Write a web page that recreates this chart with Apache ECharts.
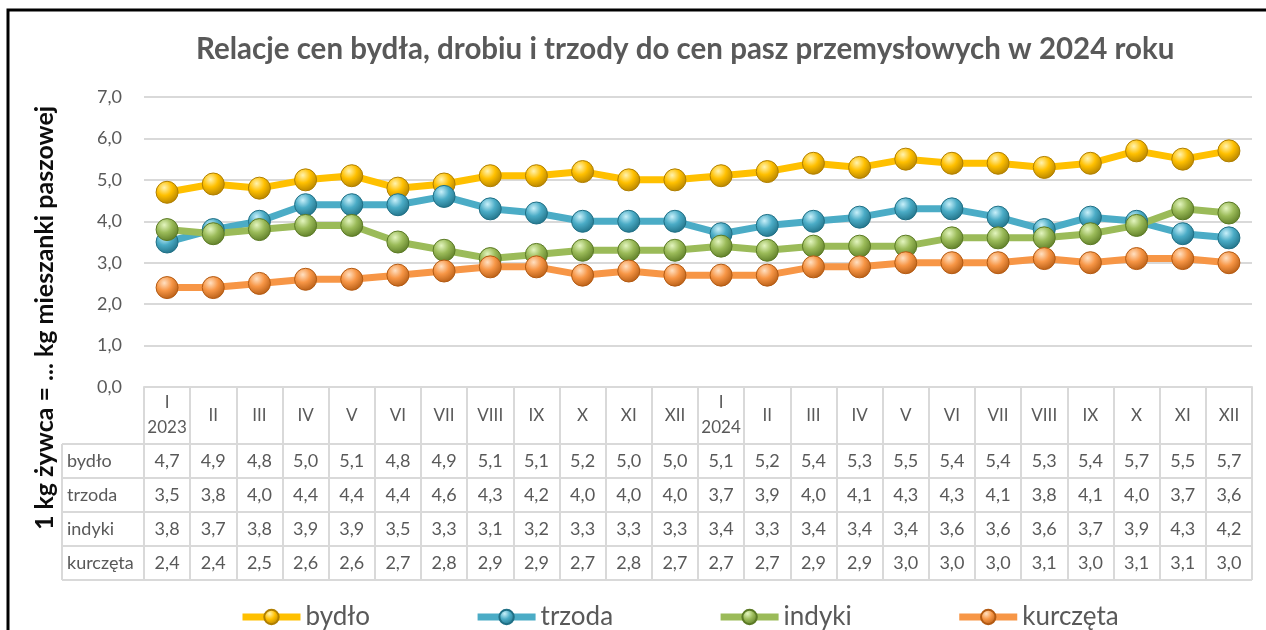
<!DOCTYPE html>
<html>
<head>
    <meta charset="UTF-8">
    <title>Relacje cen</title>
    <script src="https://cdn.jsdelivr.net/npm/echarts@6/dist/echarts.min.js"></script>
    <style>
        html, body { margin: 0; padding: 0; background: #fff; }
        #chart { width: 1266px; height: 630px; }
    </style>
</head>
<body>
<div id="chart"></div>
<script>
    const months = ['I\n2023', 'II', 'III', 'IV', 'V', 'VI', 'VII', 'VIII', 'IX', 'X', 'XI', 'XII',
        'I\n2024', 'II', 'III', 'IV', 'V', 'VI', 'VII', 'VIII', 'IX', 'X', 'XI', 'XII']
    const bydlo = [4.7, 4.9, 4.8, 5.0, 5.1, 4.8, 4.9, 5.1, 5.1, 5.2, 5.0, 5.0, 5.1, 5.2, 5.4, 5.3, 5.5, 5.4, 5.4, 5.3, 5.4, 5.7, 5.5, 5.7]
    const trzoda = [3.5, 3.8, 4.0, 4.4, 4.4, 4.4, 4.6, 4.3, 4.2, 4.0, 4.0, 4.0, 3.7, 3.9, 4.0, 4.1, 4.3, 4.3, 4.1, 3.8, 4.1, 4.0, 3.7, 3.6]
    const indyki = [3.8, 3.7, 3.8, 3.9, 3.9, 3.5, 3.3, 3.1, 3.2, 3.3, 3.3, 3.3, 3.4, 3.3, 3.4, 3.4, 3.4, 3.6, 3.6, 3.6, 3.7, 3.9, 4.3, 4.2]
    const kurczeta = [2.4, 2.4, 2.5, 2.6, 2.6, 2.7, 2.8, 2.9, 2.9, 2.7, 2.8, 2.7, 2.7, 2.7, 2.9, 2.9, 3.0, 3.0, 3.0, 3.1, 3.0, 3.1, 3.1, 3.0]

    const rows = [
        {name: 'bydło', data: bydlo, color: '#FFC000', light: '#fff3b0', dark: '#b07f00'},
        {name: 'trzoda', data: trzoda, color: '#4BACC6', light: '#c8f0fa', dark: '#1f6f85'},
        {name: 'indyki', data: indyki, color: '#9BBB59', light: '#e3f5bf', dark: '#5b7a25'},
        {name: 'kurczęta', data: kurczeta, color: '#F79646', light: '#ffe0c2', dark: '#b35a12'},
    ]

    const FONT = 'Lato'
    const GREY = '#595959'
    const LINE = '#d9d9d9'
    const GRID_L = 144, GRID_R = 1252, GRID_T = 97, AXIS_Y = 387
    const HEADER_H = 57, ROW_H = 34, LABEL_X = 62
    const fmt = v => v.toFixed(1).replace('.', ',')

    let chart = echarts.init(document.getElementById('chart'), null, {renderer: 'canvas'})

    // table rows are extra category axes under the plot
    let rowAxes = rows.map((r, i) => ({
        type: 'category',
        gridIndex: 0,
        position: 'bottom',
        data: months,
        offset: HEADER_H + ROW_H * i + ROW_H / 2,
        axisLine: {show: false},
        axisTick: {show: false},
        axisLabel: {
            interval: 0, margin: 0, verticalAlign: 'middle',
            color: GREY, fontFamily: FONT, fontSize: 18,
            formatter: (v, idx) => fmt(r.data[idx])
        },
        name: r.name,
        nameLocation: 'start',
        nameGap: GRID_L - LABEL_X - 5,
        nameMoveOverlap: false,
        nameTextStyle: {align: 'left', verticalAlign: 'middle', color: GREY, fontFamily: FONT, fontSize: 18},
    }))

    let tableBottom = AXIS_Y + HEADER_H + ROW_H * rows.length
    let tableLines = []
    for (let i = 0; i <= rows.length; i++) {
        let y = AXIS_Y + HEADER_H + ROW_H * i
        tableLines.push({type: 'line', shape: {x1: LABEL_X, y1: y, x2: GRID_R, y2: y},
            style: {stroke: LINE, lineWidth: 2}})
    }
    tableLines.push({type: 'line', shape: {x1: LABEL_X, y1: AXIS_Y + HEADER_H, x2: LABEL_X, y2: tableBottom},
        style: {stroke: LINE, lineWidth: 2}})

    let option = {
        backgroundColor: '#fff',
        animation: false,
        title: {
            text: 'Relacje cen bydła, drobiu i trzody do cen pasz przemysłowych w 2024 roku',
            left: 191, top: 29,
            textStyle: {color: GREY, fontFamily: FONT, fontWeight: 'bold', fontSize: 29.5}
        },
        legend: {
            top: 599, left: 234,
            itemWidth: 58, itemHeight: 18, itemGap: 104,
            lineStyle: {width: 7},
            textStyle: {color: GREY, fontFamily: FONT, fontSize: 26},
            data: rows.map(r => r.name)
        },
        grid: {left: GRID_L, right: 1266 - GRID_R, top: GRID_T, bottom: 630 - AXIS_Y, outerBoundsMode: 'none'},
        xAxis: [{
            type: 'category',
            data: months,
            boundaryGap: true,
            axisLine: {lineStyle: {color: LINE, width: 2}},
            axisTick: {show: true, interval: 0, length: tableBottom - AXIS_Y, lineStyle: {color: LINE, width: 2}},
            axisLabel: {interval: 0, margin: HEADER_H / 2, verticalAlign: 'middle', lineHeight: 25,
                color: GREY, fontFamily: FONT, fontSize: 17}
        }].concat(rowAxes),
        yAxis: {
            type: 'value', min: 0, max: 7, interval: 1,
            axisLabel: {formatter: fmt, color: GREY, fontFamily: FONT, fontSize: 18, margin: 22},
            splitLine: {lineStyle: {color: LINE, width: 2}},
            axisLine: {show: false}, axisTick: {show: false}
        },
        graphic: [
            {type: 'rect', shape: {x: 8, y: 10, width: 1300, height: 700},
                style: {fill: null, stroke: '#000', lineWidth: 3}},
            {type: 'text', x: 45, y: 318, rotation: Math.PI / 2,
                style: {text: '1 kg żywca = ... kg mieszanki paszowej', align: 'center', verticalAlign: 'middle',
                    fill: '#0d0d0d', font: 'bold 25px Lato'}},
        ].concat(tableLines),
        series: rows.map(r => ({
            name: r.name,
            type: 'line',
            data: r.data,
            symbol: 'circle',
            symbolSize: 22,
            showAllSymbol: true,
            lineStyle: {color: r.color, width: 7},
            itemStyle: {
                color: {type: 'radial', x: 0.38, y: 0.3, r: 0.75, colorStops: [
                    {offset: 0, color: r.light}, {offset: 0.45, color: r.color}, {offset: 1, color: r.dark}]},
                borderColor: r.dark, borderWidth: 1
            },
            emphasis: {disabled: true}
        }))
    }
    chart.setOption(option)
</script>
</body>
</html>
